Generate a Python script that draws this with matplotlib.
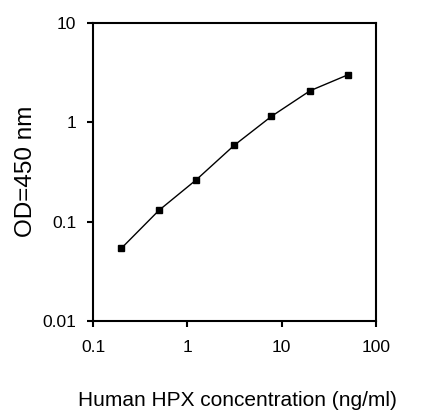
import matplotlib
matplotlib.use('Agg')
import matplotlib.pyplot as plt
from matplotlib.ticker import FixedLocator, FixedFormatter, NullLocator

conc = [0.2, 0.5, 1.25, 3.125, 7.8, 20, 50]
od = [0.054, 0.13, 0.265, 0.585, 1.15, 2.08, 3.0]

x_ticks = [0.1, 1, 10, 100]
x_labels = ['0.1', '1', '10', '100']
y_ticks = [0.01, 0.1, 1, 10]
y_labels = ['0.01', '0.1', '1', '10']

plt.rcParams['font.family'] = ['Liberation Sans', 'DejaVu Sans']

fig = plt.figure(figsize=(4.22, 4.11), dpi=100)
ax = fig.add_axes([0.2204, 0.219, 0.6706, 0.725])
ax.plot(conc, od, color='k', linewidth=1, marker='s', markersize=5)
ax.set_xscale('log')
ax.set_yscale('log')
ax.set_xlim(0.1, 100)
ax.set_ylim(0.01, 10)

ax.xaxis.set_major_locator(FixedLocator(x_ticks))
ax.xaxis.set_major_formatter(FixedFormatter(x_labels))
ax.yaxis.set_major_locator(FixedLocator(y_ticks))
ax.yaxis.set_major_formatter(FixedFormatter(y_labels))
ax.xaxis.set_minor_locator(NullLocator())
ax.yaxis.set_minor_locator(NullLocator())

for s in ax.spines.values():
    s.set_linewidth(1.5)
ax.tick_params(direction='out', length=4, width=1.5, labelsize=12.5)
ax.tick_params(axis='x', pad=10)
ax.tick_params(axis='y', pad=8)

xl = ax.set_xlabel('Human HPX concentration (ng/ml)', fontsize=15)
xl.set_va('baseline')
ax.set_ylabel('OD=450 nm', fontsize=17.5)
ax.xaxis.set_label_coords(0.511, -0.285)
ax.yaxis.set_label_coords(-0.198, 0.502)

fig.savefig('out.png', dpi=100)
